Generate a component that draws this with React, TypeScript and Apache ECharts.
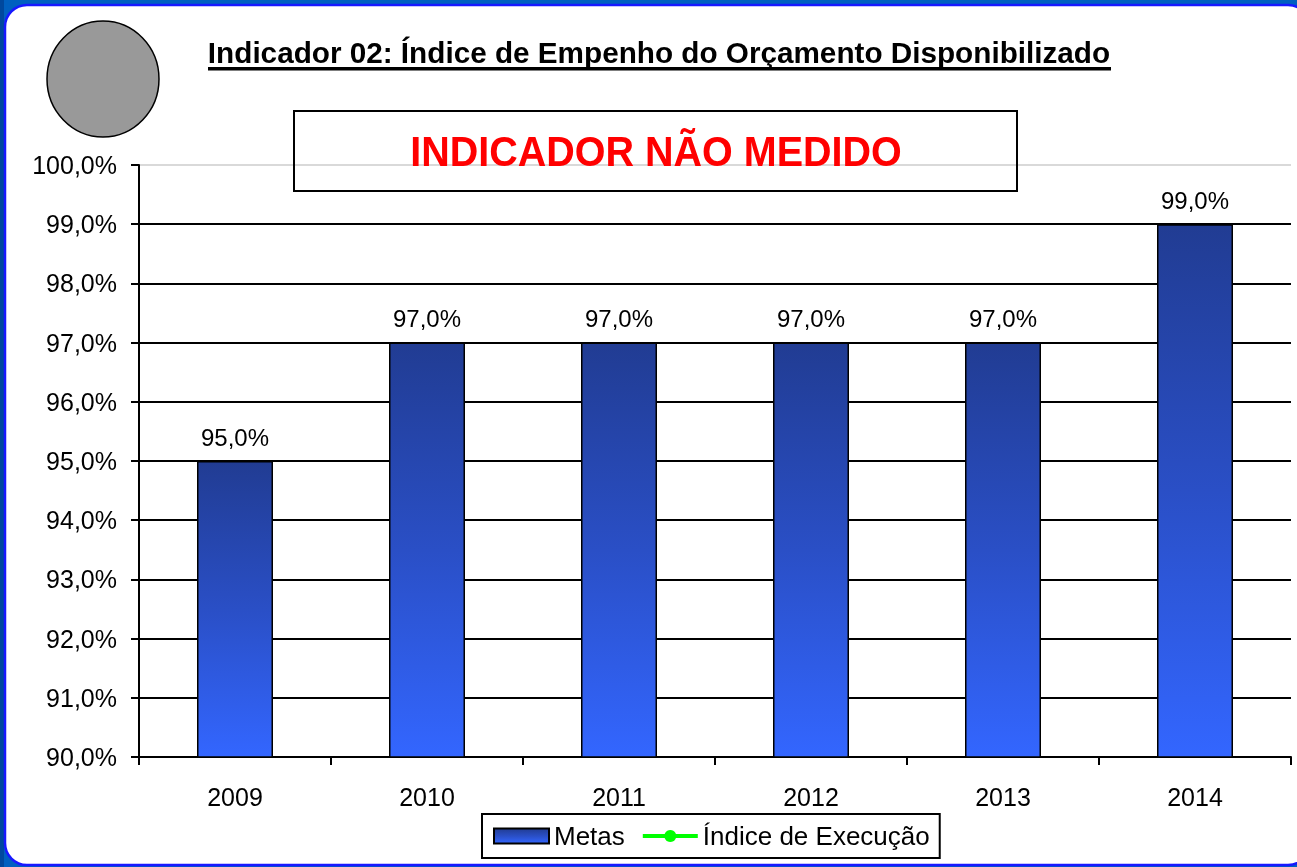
import React, { useEffect, useRef } from "react";
import * as echarts from "echarts";

const categories = ["2009", "2010", "2011", "2012", "2013", "2014"];
const metas = [95, 97, 97, 97, 97, 99];
const execucao: (number | null)[] = [null, null, null, null, null, null];
const titleText = "Indicador 02: Índice de Empenho do Orçamento Disponibilizado";
const statusText = "INDICADOR NÃO MEDIDO";

const FONT = "'Liberation Sans', Arial, sans-serif";
const fmt = (v: number) => v.toFixed(1).replace(".", ",") + "%";

export default function App() {
  const ref = useRef<HTMLDivElement>(null);
  useEffect(() => {
    document.body.style.margin = "0";
    const chart = echarts.init(ref.current!, null, { renderer: "svg" });
    const barGrad = new echarts.graphic.LinearGradient(0, 0, 0, 1, [
      { offset: 0, color: "#213C93" },
      { offset: 0.5, color: "#2A4FC6" },
      { offset: 1, color: "#3366FF" },
    ]);
    const gridColors = ["#000", "#000", "#000", "#000", "#000", "#000", "#000", "#000", "#000", "#000", "#d9d9d9"];
    chart.setOption({
      animation: false,
      backgroundColor: "transparent",
      textStyle: { fontFamily: FONT },
      graphic: [
        { type: "rect", z: -10, silent: true, shape: { x: 0, y: 0, width: 1297, height: 867 }, style: { fill: "#0060C0" } },
        { type: "rect", z: -10, silent: true, shape: { x: 0, y: 0, width: 4, height: 867 }, style: { fill: "#00489E" } },
        {
          type: "rect", z: -9, silent: true,
          shape: { x: 5, y: 5, width: 1305, height: 860, r: 22 },
          style: { fill: "#ffffff", stroke: "#1818FF", lineWidth: 2.5 },
        },
        {
          type: "ellipse", z: 10, silent: true,
          shape: { cx: 103, cy: 79, rx: 56, ry: 58 },
          style: { fill: "#999999", stroke: "#000", lineWidth: 1.5 },
        },
        {
          type: "text", z: 10, silent: true, x: 659, y: 52.5,
          style: { text: titleText, fill: "#000", font: `bold 29.7px ${FONT}`, align: "center", verticalAlign: "middle" },
        },
        { type: "rect", z: 10, silent: true, shape: { x: 208, y: 67, width: 903, height: 3.5 }, style: { fill: "#000" } },
        {
          type: "rect", z: 10, silent: true,
          shape: { x: 294, y: 111, width: 723, height: 80 },
          style: { fill: "none", stroke: "#000", lineWidth: 2 },
        },
        {
          type: "text", z: 10, silent: true, x: 656, y: 152, scaleY: 1.06,
          style: { text: statusText, fill: "#FF0000", font: `bold 39.5px ${FONT}`, align: "center", verticalAlign: "middle" },
        },
      ],
      legend: {
        left: 482,
        top: 814,
        padding: [9, 10, 9, 11],
        borderColor: "#000",
        borderWidth: 2,
        itemWidth: 55,
        itemHeight: 15,
        itemGap: 16,
        textStyle: { fontSize: 26, color: "#000", fontFamily: FONT },
        data: [
          { name: "Metas", icon: "rect" },
          { name: "Índice de Execução", lineStyle: { width: 4, color: "#00FF00" }, itemStyle: { color: "#00FF00" } },
        ],
      },
      grid: { left: 139, right: 6, top: 165, bottom: 110, containLabel: false },
      xAxis: {
        type: "category",
        data: categories,
        boundaryGap: true,
        axisLine: { lineStyle: { color: "#000", width: 2 } },
        axisTick: { show: true, length: 8, lineStyle: { color: "#000", width: 2 } },
        axisLabel: { fontSize: 25, color: "#000", margin: 27, fontFamily: FONT },
      },
      yAxis: {
        type: "value",
        min: 90,
        max: 100,
        interval: 1,
        axisLine: { show: true, lineStyle: { color: "#000", width: 2 } },
        axisTick: { show: true, length: 8, lineStyle: { color: "#000", width: 2 } },
        axisLabel: { fontSize: 25, color: "#000", margin: 22, formatter: (v: number) => fmt(v), fontFamily: FONT },
        splitLine: { show: true, lineStyle: { color: gridColors, width: 2 } },
      },
      series: [
        {
          name: "Metas",
          type: "bar",
          data: metas,
          barWidth: 76,
          itemStyle: { color: barGrad, borderColor: "#000", borderWidth: 1.5 },
          label: {
            show: true,
            position: "top",
            distance: 12,
            fontSize: 24,
            color: "#000",
            fontFamily: FONT,
            formatter: (p: any) => fmt(p.value),
          },
        },
        {
          name: "Índice de Execução",
          type: "line",
          data: execucao,
          color: "#00FF00",
          symbol: "circle",
          symbolSize: 14,
          lineStyle: { color: "#00FF00", width: 4 },
          itemStyle: { color: "#00FF00" },
        },
      ],
    });
    return () => chart.dispose();
  }, []);
  return (
    <div
      ref={ref}
      style={{ position: "fixed", left: 0, top: 0, width: 1297, height: 867 }}
    />
  );
}
